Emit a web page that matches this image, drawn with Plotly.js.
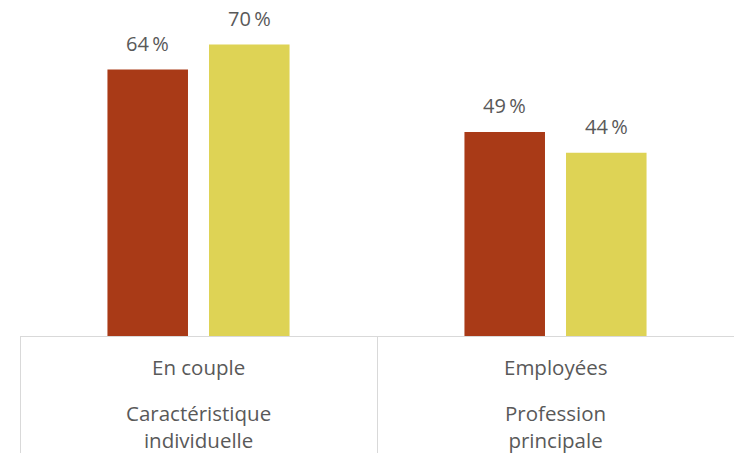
<!DOCTYPE html>
<html>
<head>
<meta charset="utf-8">
<script src="https://cdn.plot.ly/plotly-3.0.1.min.js"></script>
<style>
  html, body { margin: 0; padding: 0; background: #fff; }
  #chart { width: 734px; height: 453px; }
</style>
</head>
<body>
<div id="chart"></div>
<script>
// data
var categories = ['En couple', 'Employées'];
var groups = ['Caractéristique<br>individuelle', 'Profession<br>principale'];
var serie_a = [64, 49];
var serie_b = [70, 44];

var red = '#A93A17';
var yellow = '#DED355';
var grey_text = '#595959';
var grey_line = '#D9D9D9';

var trace_a = {
    x: categories,
    y: serie_a,
    type: 'bar',
    name: 'A',
    marker: {color: red},
    hoverinfo: 'none'
};

var trace_b = {
    x: categories,
    y: serie_b,
    type: 'bar',
    name: 'B',
    marker: {color: yellow},
    hoverinfo: 'none'
};

// value labels above each bar, half a bar slot left / right of the category centre
var annotations = [];
var slot = 101.5;
[serie_a, serie_b].forEach(function (serie, k) {
    for (var i = 0; i < serie.length; i++) {
        annotations.push({
            x: categories[i], y: serie[i], xref: 'x', yref: 'y',
            text: serie[i] + '\u2009%',
            showarrow: false,
            xshift: (k === 0 ? -1 : 1) * slot / 2,
            yanchor: 'bottom', yshift: 11,
            font: {family: 'Open Sans, sans-serif', size: 20, color: grey_text}
        });
    }
});

// category labels (inner) and group labels (outer)
for (var i = 0; i < categories.length; i++) {
    annotations.push({
        x: categories[i], y: 0, xref: 'x', yref: 'paper',
        text: categories[i], showarrow: false,
        yanchor: 'middle', yshift: -31,
        font: {family: 'Open Sans, sans-serif', size: 20.5, color: grey_text}
    });
    annotations.push({
        x: categories[i], y: 0, xref: 'x', yref: 'paper',
        text: groups[i], showarrow: false,
        yanchor: 'middle', yshift: -90,
        font: {family: 'Open Sans, sans-serif', size: 20.5, color: grey_text}
    });
}

var layout = {
    width: 734,
    height: 453,
    margin: {l: 20, r: 0, t: 0, b: 117, pad: 0},
    paper_bgcolor: '#fff',
    plot_bgcolor: '#fff',
    showlegend: false,
    barmode: 'group',
    bargap: 0.431,
    bargroupgap: 0.207,
    xaxis: {
        type: 'category',
        range: [-0.5, 1.5],
        showline: true,
        linecolor: grey_line,
        linewidth: 1,
        ticks: 'outside',
        tickson: 'boundaries',
        ticklen: 117,
        tickcolor: grey_line,
        tickwidth: 1,
        showticklabels: false,
        showgrid: false,
        zeroline: false,
        fixedrange: true
    },
    yaxis: {
        range: [0, 80.7],
        visible: false,
        showgrid: false,
        zeroline: false,
        fixedrange: true
    },
    annotations: annotations
};

Plotly.newPlot('chart', [trace_a, trace_b], layout, {displayModeBar: false, staticPlot: true});
</script>
</body>
</html>
